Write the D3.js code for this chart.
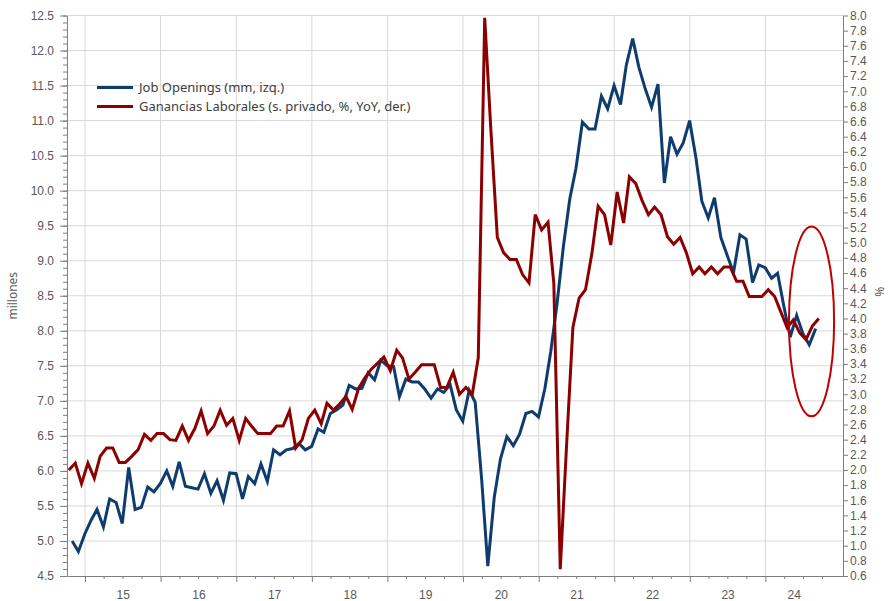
<!DOCTYPE html>
<html>
<head>
<meta charset="utf-8">
<script src="https://cdn.jsdelivr.net/npm/d3@7"></script>
<style>
  body { margin: 0; background: #fff; }
  svg { display: block; font-family: "Noto Sans", sans-serif; }
  .tick text { fill: #595959; font-size: 12px; }
  .axis path, .axis line { stroke: #7f7f7f; }
</style>
</head>
<body>
<svg width="890" height="601"></svg>
<script>
const svg = d3.select('svg');

const width = +svg.attr('width');
const height = +svg.attr('height');

// Job Openings, millions, monthly from Oct 2014 to Aug 2024
const jobOpenings = [
    5.0, 4.85, 5.1,
    5.3, 5.45, 5.2, 5.6, 5.55, 5.25, 6.05, 5.45, 5.48, 5.77, 5.7, 5.82,
    6.0, 5.78, 6.13, 5.78, 5.76, 5.74, 5.96, 5.68, 5.86, 5.58, 5.97, 5.96,
    5.6, 5.92, 5.82, 6.1, 5.85, 6.3, 6.23, 6.3, 6.32, 6.39, 6.3, 6.35,
    6.6, 6.55, 6.82, 6.87, 6.94, 7.22, 7.17, 7.18, 7.4, 7.3, 7.58, 7.5,
    7.49, 7.06, 7.31, 7.27, 7.27, 7.17, 7.04, 7.17, 7.12, 7.23, 6.87, 6.71,
    7.15, 6.98, 5.89, 4.64, 5.62, 6.17, 6.49, 6.36, 6.52, 6.82, 6.85, 6.77,
    7.18, 7.7, 8.4, 9.2, 9.88, 10.32, 10.98, 10.88, 10.88, 11.35, 11.17, 11.5,
    11.23, 11.79, 12.17, 11.76, 11.45, 11.19, 11.52, 10.11, 10.77, 10.52, 10.68, 11.0,
    10.46, 9.85, 9.61, 9.9, 9.33, 9.08, 8.83, 9.37, 9.31, 8.69, 8.94, 8.9,
    8.75, 8.82, 8.34, 7.91, 8.22, 7.96, 7.8, 8.03
];

// Ganancias laborales, sector privado, % YoY, monthly from Oct 2014 to Sep 2024
const earningsYoY = [
    2.0, 2.09, 1.82,
    2.09, 1.89, 2.18, 2.29, 2.29, 2.1, 2.1, 2.18, 2.27, 2.47, 2.39, 2.48,
    2.48, 2.4, 2.39, 2.58, 2.39, 2.55, 2.78, 2.48, 2.58, 2.79, 2.59, 2.68,
    2.39, 2.68, 2.58, 2.48, 2.48, 2.48, 2.58, 2.58, 2.78, 2.29, 2.4, 2.68,
    2.79, 2.61, 2.88, 2.79, 2.87, 2.97, 2.8, 3.08, 3.22, 3.33, 3.41, 3.49,
    3.31, 3.58, 3.48, 3.2, 3.29, 3.39, 3.39, 3.39, 3.09, 3.09, 3.29, 3.0,
    3.09, 3.0, 3.48, 7.97, 6.48, 5.07, 4.87, 4.78, 4.78, 4.58, 4.47, 5.37,
    5.17, 5.27, 4.46, 0.69, 2.3, 3.88, 4.27, 4.38, 4.86, 5.48, 5.37, 4.97,
    5.67, 5.26, 5.87, 5.78, 5.56, 5.37, 5.47, 5.37, 5.08, 4.98, 5.07, 4.87,
    4.59, 4.68, 4.59, 4.68, 4.59, 4.68, 4.68, 4.49, 4.49, 4.29, 4.29, 4.29,
    4.38, 4.29, 4.09, 3.88, 3.98, 3.81, 3.72, 3.9, 4.0
];

const seriesNames = ["Job Openings (mm, izq.)", "Ganancias Laborales (s. privado, %, YoY, der.)"];
const seriesColors = ["#0f3c6e", "#8b0000"];
const yearLabels = ["15", "16", "17", "18", "19", "20", "21", "22", "23", "24"];
const leftAxisTitle = "millones";
const rightAxisTitle = "%";

// highlighted area (red ellipse): dates and left-axis values
const highlightDates = [new Date(2024, 3, 24), new Date(2024, 10, 28)];
const highlightValues = [6.78, 9.49];

const margin = { top: 15.5, right: 47, bottom: 25, left: 67 };
const innerWidth = width - margin.left - margin.right;
const innerHeight = height - margin.top - margin.bottom;

/******************
*** SCALES ********
*******************/
const xScale = d3.scaleTime()
    .domain([new Date(2014, 9, 6), new Date(2025, 0, 10)])
    .range([0, innerWidth]);

const yLeft = d3.scaleLinear()
    .domain([4.5, 12.5])
    .range([innerHeight, 0]);

const yRight = d3.scaleLinear()
    .domain([0.6, 8.0])
    .range([innerHeight, 0]);

// blue series is dated at month end, red series at mid month
const blueData = jobOpenings.map((v, i) => ({ date: new Date(2014, 10 + i, 0), value: v }));
const redData = earningsYoY.map((v, i) => ({ date: new Date(2014, 9 + i, 15), value: v }));

const g = svg.append('g')
    .attr('transform', `translate(${margin.left},${margin.top})`);

/******************
*** GRID **********
*******************/
const yearStarts = d3.timeYear.range(new Date(2015, 0, 1), new Date(2025, 0, 1));
const quarterTicks = d3.timeMonth.every(3).range(new Date(2015, 0, 1), new Date(2024, 11, 1));
const lastQuarter = quarterTicks[quarterTicks.length - 1];

g.append('g').selectAll('line')
    .data(d3.range(5.0, 12.51, 0.5))
    .enter().append('line')
    .attr('x1', 0).attr('x2', innerWidth)
    .attr('y1', d => yLeft(d)).attr('y2', d => yLeft(d))
    .attr('stroke', '#d9d9d9');

g.append('g').selectAll('line')
    .data(yearStarts)
    .enter().append('line')
    .attr('x1', d => xScale(d)).attr('x2', d => xScale(d))
    .attr('y1', 0).attr('y2', innerHeight)
    .attr('stroke', '#d9d9d9');

/******************
*** AXES **********
*******************/
// minor ticks only, no labels
const minorTicks = (sel) => {
    sel.select('.domain').remove();
    sel.selectAll('.tick text').remove();
};

// left: minor ticks every 0.1, labels every 0.5
g.append('g').attr('class', 'axis')
    .call(d3.axisLeft(yLeft).tickValues(d3.range(45, 126, 1).map(d => d / 10)).tickSize(4))
    .call(minorTicks);
g.append('g').attr('class', 'axis')
    .call(d3.axisLeft(yLeft).tickValues(d3.range(4.5, 12.51, 0.5)).tickSize(7).tickPadding(6)
        .tickFormat(d3.format('.1f')).tickSizeOuter(0));

// right
g.append('g').attr('class', 'axis')
    .attr('transform', `translate(${innerWidth},0)`)
    .call(d3.axisRight(yRight).tickValues(d3.range(6, 81, 2).map(d => d / 10)).tickSize(5).tickPadding(2)
        .tickFormat(d3.format('.1f')).tickSizeOuter(0));

// bottom: year ticks, quarter ticks, and year labels centred in each year span
g.append('g').attr('class', 'axis')
    .attr('transform', `translate(0,${innerHeight})`)
    .call(d3.axisBottom(xScale).tickValues(quarterTicks.filter(d => d.getMonth() !== 0)).tickSize(3))
    .call(minorTicks);
g.append('g').attr('class', 'axis')
    .attr('transform', `translate(0,${innerHeight})`)
    .call(d3.axisBottom(xScale).tickValues(yearStarts).tickSize(6).tickSizeOuter(0))
    .selectAll('.tick text').remove();

const labelDates = yearStarts.map(d => {
    const next = d3.min([d3.timeYear.offset(d, 1), lastQuarter]);
    return new Date((d.getTime() + next.getTime()) / 2);
});
g.append('g').attr('class', 'axis')
    .attr('transform', `translate(0,${innerHeight})`)
    .call(d3.axisBottom(xScale).tickValues(labelDates).tickSize(0).tickPadding(14)
        .tickFormat((d, i) => yearLabels[i]))
    .select('.domain').remove();

// axis titles
svg.append('text')
    .attr('transform', `translate(17,${margin.top + innerHeight / 2}) rotate(-90)`)
    .attr('text-anchor', 'middle')
    .attr('fill', '#595959')
    .style('font-size', '12px')
    .text(leftAxisTitle);

svg.append('text')
    .attr('transform', `translate(884,${margin.top + innerHeight / 2 - 4}) rotate(-90)`)
    .attr('text-anchor', 'middle')
    .attr('fill', '#595959')
    .style('font-size', '12px')
    .text(rightAxisTitle);

/******************
*** LINES *********
*******************/
const blueLine = d3.line()
    .x(d => xScale(d.date))
    .y(d => yLeft(d.value));

const redLine = d3.line()
    .x(d => xScale(d.date))
    .y(d => yRight(d.value));

g.append('path')
    .datum(blueData)
    .attr('fill', 'none')
    .attr('stroke', seriesColors[0])
    .attr('stroke-width', 3)
    .attr('d', blueLine);

g.append('path')
    .datum(redData)
    .attr('fill', 'none')
    .attr('stroke', seriesColors[1])
    .attr('stroke-width', 3)
    .attr('d', redLine);

// highlight ellipse
const ex = highlightDates.map(xScale);
const ey = highlightValues.map(yLeft);
g.append('ellipse')
    .attr('cx', (ex[0] + ex[1]) / 2)
    .attr('cy', (ey[0] + ey[1]) / 2)
    .attr('rx', (ex[1] - ex[0]) / 2)
    .attr('ry', Math.abs(ey[0] - ey[1]) / 2)
    .attr('fill', 'none')
    .attr('stroke', '#c00000')
    .attr('stroke-width', 2);

/******************
*** LEGEND ********
*******************/
const legend = svg.append('g')
    .attr('transform', 'translate(97,87.5)');

const legendItem = legend.selectAll('g')
    .data(seriesNames)
    .enter().append('g')
    .attr('transform', (d, i) => `translate(0,${i * 19})`);

legendItem.append('line')
    .attr('x1', 0).attr('x2', 36)
    .attr('stroke', (d, i) => seriesColors[i])
    .attr('stroke-width', 3);

legendItem.append('text')
    .attr('x', 42)
    .attr('dy', '0.35em')
    .attr('fill', '#404040')
    .style('font-size', '13px')
    .text(d => d);
</script>
</body>
</html>
